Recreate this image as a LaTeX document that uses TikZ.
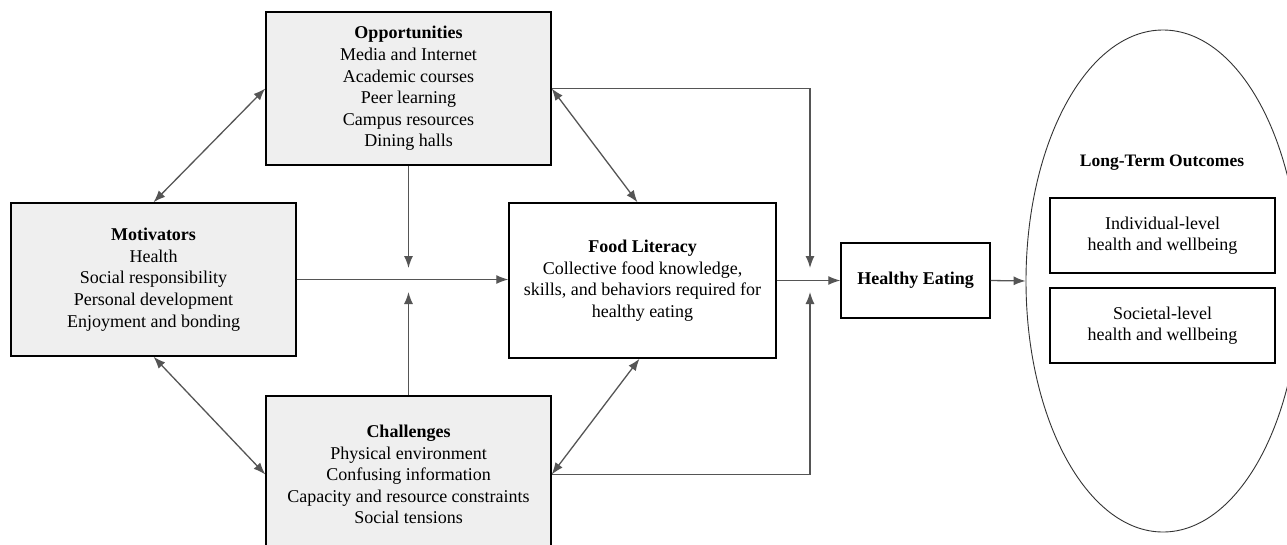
\documentclass[tikz,border=0pt]{standalone}
\usepackage{fontspec}
\setmainfont{Liberation Serif}
\usetikzlibrary{arrows.meta,shapes.geometric}
\definecolor{boxfill}{HTML}{EFEFEF}
\definecolor{arrowgray}{HTML}{555555}
\tikzset{
  x=1pt,y=-1pt,
  box/.style={draw=black,line width=1.4pt,rectangle,align=center,inner sep=0pt,
    font=\fontsize{18}{21.6}\selectfont},
  grey/.style={box,fill=boxfill},
  arr/.style={draw=arrowgray,line width=1.3pt,-{Latex[length=12pt,width=9pt]}},
  biarr/.style={draw=arrowgray,line width=1.3pt,{Latex[length=12pt,width=9pt]}-{Latex[length=12pt,width=9pt]}},
}
\begin{document}
\begin{tikzpicture}
\useasboundingbox (0,0) rectangle (1287,544);
\clip (0,0) rectangle (1287,544);
\fill[white] (0,0) rectangle (1287,544);
\node[grey,minimum width=285pt,minimum height=153pt] (opp) at (408.5,88.5)
  {\textbf{Opportunities}\\Media and Internet\\Academic courses\\Peer learning\\Campus resources\\Dining halls};
\node[grey,minimum width=285pt,minimum height=153pt] (mot) at (153.5,279.5)
  {\textbf{Motivators}\\Health\\Social responsibility\\Personal development\\Enjoyment and bonding};
\node[box,fill=white,minimum width=267pt,minimum height=155pt] (fl) at (642.5,280.5)
  {\textbf{Food Literacy}\\Collective food knowledge,\\skills, and behaviors required for\\healthy eating};
\node[grey,minimum width=285pt,minimum height=157pt] (chal) at (408.5,474.5)
  {\textbf{Challenges}\\Physical environment\\Confusing information\\Capacity and resource constraints\\Social tensions};
\node[box,fill=white,minimum width=149pt,minimum height=75pt] (he) at (915.5,280.5)
  {\textbf{Healthy Eating}};
\node[draw=black!80,line width=0.9pt,ellipse,minimum width=274pt,minimum height=502pt,inner sep=0pt] (ell) at (1163,281) {};
\node[font=\fontsize{17.5}{21}\selectfont] (lto) at (1162,163) {\textbf{Long-Term Outcomes}};
\node[box,fill=white,minimum width=225pt,minimum height=75pt] (ind) at (1162.5,235.5)
  {Individual-level\\health and wellbeing};
\node[box,fill=white,minimum width=225pt,minimum height=75pt] (soc) at (1162.5,325.5)
  {Societal-level\\health and wellbeing};
\coordinate (m1) at (408.5,268);
\coordinate (m2) at (408.5,292);
\coordinate (r1) at (810,268);
\coordinate (r2) at (810,292);
\draw[biarr] (opp.west) -- (mot.north);
\draw[biarr] (opp.east) -- ([xshift=-5pt]fl.north);
\draw[biarr] (mot.south) -- (chal.west);
\draw[biarr] (chal.east) -- ([xshift=-3pt]fl.south);
\draw[arr] (mot.east) -- (mot.east -| fl.west);
\draw[arr] (opp.south) -- (m1);
\draw[arr] (chal.north) -- (m2);
\draw[arr] (opp.east) -| (r1);
\draw[arr] (chal.east) -| (r2);
\draw[arr] (fl.east) -- (he.west);
\draw[arr] (he.east) -- (ell.west);
\end{tikzpicture}
\end{document}
